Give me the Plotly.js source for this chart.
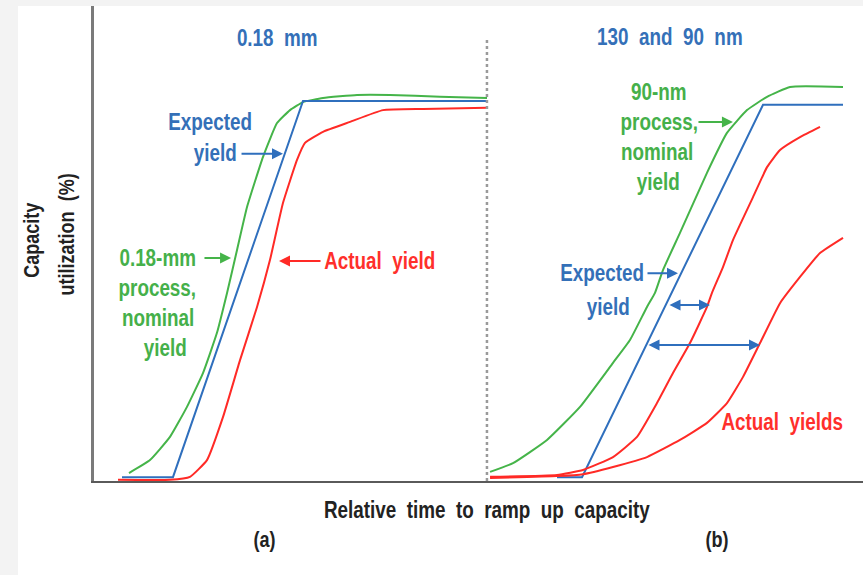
<!DOCTYPE html>
<html>
<head>
<meta charset="utf-8">
<script src="https://cdn.plot.ly/plotly-3.0.1.min.js"></script>
<style>
html,body{margin:0;padding:0;background:#fff;}
#chart{width:863px;height:575px;}
#chart .annotation-text{transform-box:fill-box;transform-origin:center;transform:scaleX(0.82);}
</style>
</head>
<body>
<div id="chart"></div>
<script>
// Panel (a): 0.18 um
const aNominalX = [4.55, 7.28, 9.88, 12.09, 14.17, 15.99, 17.30, 18.60, 19.90, 21.98, 23.80, 25.49, 27.18, 29.78, 34.20, 38.49, 44.99, 51.11];
const aNominalY = [2.1, 5.5, 11.6, 19.5, 28.4, 39.0, 49.5, 60.8, 72.1, 85.3, 94.2, 97.6, 99.7, 100.8, 101.6, 101.6, 101.1, 100.8];
const aExpectedX = [3.64, 10.27, 27.18, 51.11];
const aExpectedY = [1.0, 1.0, 100.0, 100.0];
const aActualX = [3.12, 9.88, 12.48, 14.69, 16.77, 18.99, 21.20, 22.89, 24.58, 26.40, 27.44, 29.78, 33.29, 37.58, 42.78, 51.11];
const aActualY = [0.3, 0.3, 1.1, 5.5, 16.8, 31.8, 45.8, 58.2, 73.2, 84.5, 89.0, 91.9, 94.5, 97.6, 97.9, 98.2];

// Panel (b): 130 and 90 nm
const bNominalX = [51.50, 54.49, 58.91, 63.20, 67.49, 69.70, 71.91, 72.95, 73.99, 76.20, 79.71, 82.31, 84.92, 87.52, 90.51, 97.40];
const bNominalY = [2.4, 4.7, 10.8, 19.5, 31.1, 37.1, 45.8, 49.5, 55.5, 65.3, 81.1, 91.6, 97.6, 101.1, 103.7, 103.7];
const bExpectedX = [60.21, 63.46, 87.0, 97.4];
const bExpectedY = [1.0, 1.0, 99.0, 99.0];
const bActual1X = [51.50, 60.21, 63.59, 67.49, 70.61, 73.21, 75.29, 77.50, 79.71, 80.36, 81.79, 83.09, 85.70, 87.52, 89.21, 91.81, 94.41];
const bActual1Y = [1.1, 1.6, 2.9, 6.3, 11.6, 20.5, 28.4, 36.3, 45.8, 49.5, 56.3, 63.4, 74.7, 82.6, 87.1, 90.5, 93.2];
const bActual2X = [51.50, 60.21, 63.59, 67.49, 71.91, 76.20, 79.71, 82.31, 84.40, 86.61, 89.21, 91.81, 94.41, 97.40];
const bActual2Y = [0.8, 1.3, 1.8, 3.7, 6.3, 10.8, 15.3, 20.5, 27.4, 36.3, 46.8, 53.7, 60.0, 64.0];

// divider between panels
const dividerX = 51.1;
const dividerTop = 116.6;

// text
const titleA = "0.18\u00a0 mm";
const titleB = "130\u00a0 and\u00a0 90\u00a0 nm";
const xTitle = "Relative\u00a0 time\u00a0 to\u00a0 ramp\u00a0 up\u00a0 capacity";
const yTitle1 = "Capacity";
const yTitle2 = "utilization\u00a0 (%)";
const panelLabels = ["(a)", "(b)"];
const aNominalLabel = ["0.18-mm", "process,", "nominal", "yield"];
const bNominalLabel = ["90-nm", "process,", "nominal", "yield"];
const expectedLabel = ["Expected", "yield"];
const actualLabelA = "Actual\u00a0 yield";
const actualLabelB = "Actual\u00a0 yields";

const GREEN = "#45b449", BLUE = "#2f6fbd", RED = "#ff2a26";
const TGREEN = "#45b04a", TBLUE = "#3470b8", TRED = "#ff2f2b";
const FONT = "'Liberation Sans', Arial, sans-serif";

function line(x, y, color) {
  return {x: x, y: y, type: "scatter", mode: "lines", line: {color: color, width: 2, shape: "spline", smoothing: 0.4}, hoverinfo: "skip"};
}
function lin(x, y, color) {
  return {x: x, y: y, type: "scatter", mode: "lines", line: {color: color, width: 2}, hoverinfo: "skip"};
}

const traces = [
  line(aNominalX, aNominalY, GREEN),
  lin(aExpectedX, aExpectedY, BLUE),
  line(aActualX, aActualY, RED),
  line(bNominalX, bNominalY, GREEN),
  lin(bExpectedX, bExpectedY, BLUE),
  line(bActual1X, bActual1Y, RED),
  line(bActual2X, bActual2Y, RED)
];

function txt(x, y, text, color, size, ref) {
  return {x: x, y: y, xref: ref || "x", yref: ref || "y", text: text, showarrow: false,
    font: {family: FONT, size: size || 23, color: color, weight: "bold"}, xanchor: "center", yanchor: "middle"};
}
function arrow(x, y, ax, color, side) {
  return {x: x, y: y, ax: ax, ay: y, xref: "x", yref: "y", axref: "x", ayref: "y", text: "",
    showarrow: true, arrowhead: 2, arrowsize: 1.1, arrowwidth: 2, arrowcolor: color, arrowside: side || "end",
    startarrowhead: 2, startarrowsize: 1.1, standoff: 0, startstandoff: 0};
}

const annotations = [
  txt(23.80, 116.6, titleA, TBLUE, 23),
  txt(74.90, 116.9, titleB, TBLUE, 23),
  // panel a expected
  txt(15.04, 94.5, expectedLabel[0], TBLUE),
  txt(15.73, 86.3, expectedLabel[1], TBLUE),
  arrow(24.58, 86.1, 18.99, BLUE),
  // panel a nominal
  txt(8.3, 58.7, aNominalLabel[0], TGREEN),
  txt(8.3, 50.8, aNominalLabel[1], TGREEN),
  txt(8.3, 42.9, aNominalLabel[2], TGREEN),
  txt(9.2, 35.0, aNominalLabel[3], TGREEN),
  arrow(17.82, 58.7, 14.17, GREEN),
  // panel a actual
  txt(37.15, 57.9, actualLabelA, TRED),
  arrow(24.06, 57.9, 29.65, RED),
  // panel b nominal
  txt(73.5, 102.4, bNominalLabel[0], TGREEN),
  txt(73.6, 94.5, bNominalLabel[1], TGREEN),
  txt(73.2, 86.6, bNominalLabel[2], TGREEN),
  txt(73.4, 78.7, bNominalLabel[3], TGREEN),
  arrow(83.09, 94.5, 78.41, GREEN),
  // panel b expected
  txt(66.0, 54.7, expectedLabel[0], TBLUE),
  txt(66.8, 45.8, expectedLabel[1], TBLUE),
  arrow(75.94, 54.7, 71.78, BLUE),
  arrow(80.10, 46.3, 74.64, BLUE, "end+start"),
  arrow(86.61, 35.8, 71.91, BLUE, "end+start"),
  txt(89.47, 15.5, actualLabelB, TRED),
  // axis titles and panel labels (paper)
  txt(0.511, -0.061, xTitle, "#222", 23, "paper"),
  txt(0.222, -0.124, panelLabels[0], "#222", 22, "paper"),
  txt(0.810, -0.124, panelLabels[1], "#222", 22, "paper"),
  Object.assign(txt(-0.0819, 0.507, yTitle1, "#222", 22, "paper"), {textangle: -90}),
  Object.assign(txt(-0.0351, 0.518, yTitle2, "#222", 22, "paper"), {textangle: -90})
];

const layout = {
  width: 863, height: 575,
  margin: {l: 94, r: 0, t: 6, b: 94, pad: 0},
  paper_bgcolor: "#ffffff",
  plot_bgcolor: "#ffffff",
  showlegend: false,
  xaxis: {range: [0, 100], showgrid: false, zeroline: false, showticklabels: false, ticks: "",
    showline: true, linecolor: "#5a5a5a", linewidth: 2, fixedrange: true},
  yaxis: {range: [0, 125], showgrid: false, zeroline: false, showticklabels: false, ticks: "",
    showline: true, linecolor: "#7a7a7a", linewidth: 3, fixedrange: true},
  shapes: [
    {type: "rect", xref: "paper", yref: "paper", x0: -0.2, x1: 1.05, y0: 1, y1: 1.05, fillcolor: "#f3f3f3", line: {width: 0}, layer: "below"},
    {type: "rect", xref: "paper", yref: "paper", x0: -0.2, x1: -0.0988, y0: -0.3, y1: 1.05, fillcolor: "#f3f3f3", line: {width: 0}, layer: "below"},
    {type: "line", xref: "x", yref: "y", x0: dividerX, x1: dividerX, y0: 0, y1: dividerTop, line: {color: "#9a9a9a", width: 2.5, dash: "dot"}}
  ],
  annotations: annotations
};

Plotly.newPlot("chart", traces, layout, {displayModeBar: false, staticPlot: true});
</script>
</body>
</html>
